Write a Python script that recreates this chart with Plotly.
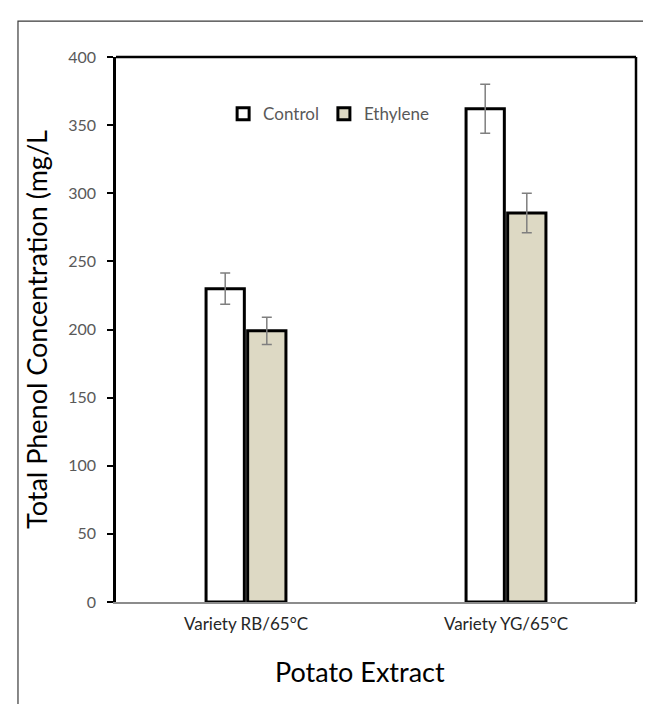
import plotly.graph_objects as go

categories = ["Variety RB/65°C", "Variety YG/65°C"]
control = [230, 362]
control_err = [11.5, 18]
ethylene = [199, 285.5]
ethylene_err = [10, 14.5]
yticks = [0, 50, 100, 150, 200, 250, 300, 350, 400]

FONT = "Lato"

fig = go.Figure()
fig.add_trace(go.Bar(
    name="Control", x=categories, y=control,
    marker=dict(color="white", line=dict(color="black", width=3)),
    error_y=dict(type="data", array=control_err, color="#7f7f7f", thickness=1.5, width=5),
))
fig.add_trace(go.Bar(
    name="Ethylene", x=categories, y=ethylene,
    marker=dict(color="#ddd9c4", line=dict(color="black", width=3)),
    error_y=dict(type="data", array=ethylene_err, color="#7f7f7f", thickness=1.5, width=5),
))

fig.update_layout(
    width=651, height=704,
    margin=dict(l=108, r=23, t=49, b=110),
    paper_bgcolor="white", plot_bgcolor="white",
    barmode="group", bargap=0.68, bargroupgap=0.08,
    font=dict(family=FONT, color="black"),
    showlegend=True,
    legend=dict(orientation="h", x=0.206, xanchor="left", y=0.895, yanchor="middle",
                font=dict(size=17, color="#595959", family=FONT),
                bgcolor="rgba(0,0,0,0)", itemclick=False),
    xaxis=dict(type="category", range=[-0.5, 1.5], showline=True, linecolor="#8c8c8c",
               linewidth=1.8, ticks="", showgrid=False, zeroline=False,
               ticklabelstandoff=6, layer="above traces",
               tickfont=dict(size=17, color="#262626", family=FONT)),
    yaxis=dict(range=[0, 400], tickvals=yticks, showline=True, linecolor="black", linewidth=2.5,
               ticks="outside", ticklen=6, tickwidth=1.5, tickcolor="black",
               showgrid=False, zeroline=False, ticklabelstandoff=8,
               tickfont=dict(size=16, color="#595959", family=FONT),
               title=dict(text="Total Phenol Concentration (mg/L",
                          font=dict(size=27, color="black", family=FONT), standoff=13)),
)

# x-axis title (centred on the whole chart area, as in the original)
fig.add_annotation(text="Potato Extract", xref="paper", yref="paper", x=0.469, y=-0.128,
                   xanchor="center", yanchor="middle", showarrow=False,
                   font=dict(size=27, color="black", family=FONT))

# plot-area frame: top and right sides
fig.add_shape(type="line", xref="paper", yref="paper", x0=0, x1=1, y0=1, y1=1,
              line=dict(color="black", width=2.5))
fig.add_shape(type="line", xref="paper", yref="paper", x0=1, x1=1, y0=0, y1=1,
              line=dict(color="black", width=2.5))
# outer chart border
fig.add_shape(type="rect", xref="paper", yref="paper", x0=-0.1885, x1=1.08, y0=-0.24, y1=1.066,
              line=dict(color="#3a3a3a", width=1.2), layer="below")

fig.write_html("out.html")
